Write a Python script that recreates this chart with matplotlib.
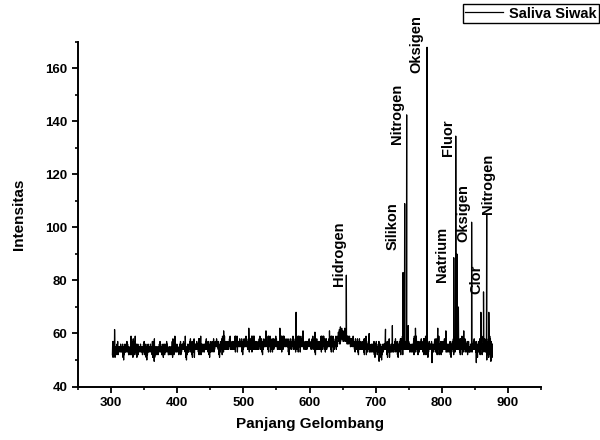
import numpy as np
import matplotlib
matplotlib.use("Agg")
import matplotlib.pyplot as plt
from matplotlib.ticker import MultipleLocator

plt.rcParams['font.family'] = ['Liberation Sans', 'DejaVu Sans']
plt.rcParams['font.weight'] = 'bold'

# Baseline spectrum: each row covers 25 nm at 0.5 nm steps,
# each digit d is an intensity of 50 + d.
row_start = [302, 327, 352, 377, 402, 427, 452, 477, 502, 527, 552, 577,
             602, 627, 652, 677, 702, 727, 752, 777, 802, 827, 852]
row_digits = [
    "27174638154253647253354536453436140524635364736452",
    "24352435244718362749352615362435453645344253647253",
    "36140524633545364534271746381524352435245364736452",
    "35261536245364736452243524352447183627493545364534",
    "42536472534656475645361405246353647583642717463815",
    "46564756453828574926354635463564758475634725163574",
    "53647583645767586756472516357458294738594657465746",
    "64758694754657465746493968593757675867565836274685",
    "75869586745748375846693958496946574657466475869475",
    "58362746855767586756493968593757483758467586958674",
    "46574657466939584969576758675658362746856475869475",
    "57483758464939685937758695867446574657465767586756",
    "64758694755836274685465746574669395849695748375846",
    "57675867564939685937647586947576987978697989898979",
    "79898789796979868978586875869757463857464837265847",
    "46564756453828574926536475836435463546354725163574",
    "42536472533614052463465647564527174638153546354635",
    "53647583644725163574382857492646564756456475847563",
    "35463546355829473859463726473564758475633828574926",
    "47251635744656475645536475836438285749264637264735",
    "64758475633546354635472516357458294738594656475645",
    "38285749265364758364463726473535463546356475847563",
    "47251635743828574926536475836438074628164928370516",
]

# Emission peaks and isolated noise spikes
peak_wl = [305.3, 330.2, 365.2, 412.2, 470.2, 508.2, 534.2, 555.2, 579.7, 590.2,
           608.2, 630.2, 643.7, 645.2, 646.7, 648.7, 650.7, 653.4, 655.7, 690.2,
           705.2, 714.9, 725.3, 741.4, 743.9, 746.9, 749.3, 760.2, 777.7, 785.2,
           793.9, 806.2, 818.1, 821.1, 822.9, 825.1, 833.2, 845.1, 852.2, 859.1,
           863.1, 867.9, 871.1, 874.2]
peak_int = [61.5, 59, 49.5, 59, 61, 62, 61, 62, 68, 61,
            60.5, 61, 60.5, 61.5, 62.5, 62, 61, 62, 82, 60,
            49.5, 61.6, 63, 83, 109, 142.5, 63, 62, 168, 49,
            62, 61, 88.6, 134.5, 90, 70, 61, 102, 49, 68,
            75.7, 105, 68, 49.5]

# Element labels
label_text = ["Hidrogen", "Silikon", "Nitrogen", "Oksigen", "Natrium",
              "Fluor", "Oksigen", "Clor", "Nitrogen"]
label_x = [643.9, 725.0, 732.6, 762.1, 800.8, 809.1, 832.6, 853.0, 869.7]
label_y = [78.0, 91.5, 131.6, 158.2, 79.4, 127.0, 94.5, 74.8, 105.1]

base_wl, base_int = [], []
for start, digits in zip(row_start, row_digits):
    for i, d in enumerate(digits):
        base_wl.append(start + 0.5 * i)
        base_int.append(50 + int(d))

wl = np.concatenate([np.array(base_wl, float), np.array(peak_wl)])
inten = np.concatenate([np.array(base_int, float), np.array(peak_int, float)])
order = np.argsort(wl, kind='stable')
wl, inten = wl[order], inten[order]

fig = plt.figure(figsize=(6, 4.4), dpi=100)
ax = fig.add_axes([78 / 600, (440 - 386.5) / 440, (541 - 78) / 600, 344.5 / 440])
line, = ax.plot(wl, inten, color='black', lw=0.9, label='Saliva Siwak')

ax.set_xlim(250, 950)
ax.set_ylim(40, 170)
ax.set_xticks(np.arange(300, 901, 100))
ax.set_yticks(np.arange(40, 161, 20))
ax.xaxis.set_minor_locator(MultipleLocator(50))
ax.yaxis.set_minor_locator(MultipleLocator(10))

for s in ['top', 'right']:
    ax.spines[s].set_visible(False)
for s in ['left', 'bottom']:
    ax.spines[s].set_linewidth(1.4)
ax.tick_params(which='major', direction='out', length=4.5, width=1.3,
               labelsize=9.5, pad=3)
ax.tick_params(which='minor', direction='out', length=2.5, width=1.2)
for lab in ax.get_xticklabels() + ax.get_yticklabels():
    lab.set_fontweight('bold')

ax.set_xlabel('Panjang Gelombang', fontsize=11, fontweight='bold', labelpad=6)
ax.set_ylabel('Intensitas', fontsize=11, fontweight='bold', labelpad=14)

for t, x, y in zip(label_text, label_x, label_y):
    ax.text(x, y, t, rotation=90, ha='center', va='bottom',
            fontsize=10.5, fontweight='bold')

leg = fig.legend(handles=[line], loc='upper right', bbox_to_anchor=(0.998, 0.99),
                 fancybox=False, shadow=False, framealpha=1, edgecolor='black',
                 handlelength=2.6, handletextpad=0.4, borderpad=0.15,
                 borderaxespad=0, prop={'size': 10.5, 'weight': 'bold'})
leg.get_frame().set_linewidth(1.0)

fig.savefig('out.png', dpi=100)
